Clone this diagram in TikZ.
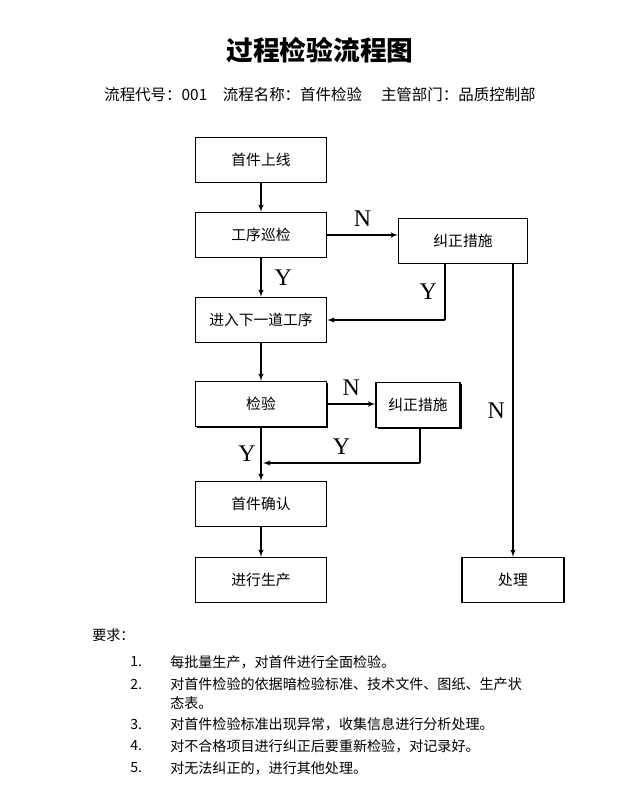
\documentclass[tikz,border=0pt]{standalone}
\usepackage{fontspec}
\setmainfont{Noto Sans CJK SC}
\newfontfamily\latinfont{Liberation Serif}
\usetikzlibrary{arrows,shadows}

\begin{document}
\begin{tikzpicture}[>=latex', x=0.025cm, y=-0.025cm]

\tikzset{
    flow box/.style={
        draw, thick, rectangle, fill=white,
        minimum width=3.275cm, minimum height=1.125cm,
        font=\fontsize{10.5}{12}\selectfont
    },
    shadow box/.style={
        flow box, drop shadow={shadow xshift=1.2pt, shadow yshift=-1.2pt, fill=black, opacity=1}
    },
    flow/.style={->, thick},
    branch/.style={font=\latinfont\fontsize{17}{17}\selectfont}
}

% Page frame
\useasboundingbox (0,0) rectangle (640,785);

% Title
\node[font=\bfseries\fontsize{19}{22}\selectfont] (title) at (320,50) {过程检验流程图};
\node[font=\fontsize{11}{13}\selectfont] (info) at (320,95) {流程代号：001\quad 流程名称：首件检验\quad\ 主管部门：品质控制部};

% MAIN COLUMN
\node[flow box] (start) at (261,160) {首件上线};
\node[flow box] (patrol) at (261,235) {工序巡检};
\node[flow box] (next) at (261,320) {进入下一道工序};
\node[shadow box] (check) at (261,404) {检验};
\node[flow box] (confirm) at (261,504) {首件确认};
\node[flow box] (produce) at (261,580) {进行生产};

% SIDE BOXES
\node[flow box, minimum width=3.225cm] (fixA) at (463,241) {纠正措施};
\node[shadow box, minimum width=2.1cm] (fixB) at (418,405) {纠正措施};
\node[flow box, minimum width=2.55cm] (handle) at (513,580) {处理};

% Helper points
\coordinate (joinA) at (445,320);
\coordinate (joinB) at (420,463);
\coordinate (joinC) at (263,463);

% --- CONNECTORS ---
\draw[flow] (start) -- (patrol);
\draw[flow] (patrol) -- node[branch, above=2pt] {N} (fixA.west |- patrol);
\draw[flow] (patrol) -- node[branch, right=6pt] {Y} (next);
\draw[thick] (fixA.south -| joinA) -- node[branch, left=2pt] {Y} (joinA);
\draw[flow] (joinA) -- (next);
\draw[flow] (fixA.south -| handle) -- node[branch, left=2pt] {N} (handle);
\draw[flow] (next) -- (check);
\draw[flow] (check) -- node[branch, above=2pt] {N} (fixB.west |- check);
\draw[flow] (check) -- node[branch, left=0pt] {Y} (confirm);
\draw[thick] (fixB.south -| joinB) -- (joinB);
\draw[flow] (joinB) -- node[branch, above=2pt] {Y} (joinC);
\draw[flow] (confirm) -- (produce);

% Requirements
\begin{scope}[every node/.style={anchor=west, font=\fontsize{10}{12}\selectfont, inner sep=0pt}]
\node (req) at (92,635) {要求：};
\node (n1) at (130,662) {1.}; \node (t1) at (170,662) {每批量生产，对首件进行全面检验。};
\node (n2) at (130,684) {2.}; \node (t2) at (170,684) {对首件检验的依据暗检验标准、技术文件、图纸、生产状};
\node (t2b) at (170,703) {态表。};
\node (n3) at (130,724) {3.}; \node (t3) at (170,724) {对首件检验标准出现异常，收集信息进行分析处理。};
\node (n4) at (130,746) {4.}; \node (t4) at (170,746) {对不合格项目进行纠正后要重新检验，对记录好。};
\node (n5) at (130,768) {5.}; \node (t5) at (170,768) {对无法纠正的，进行其他处理。};
\end{scope}

\end{tikzpicture}
\end{document}
